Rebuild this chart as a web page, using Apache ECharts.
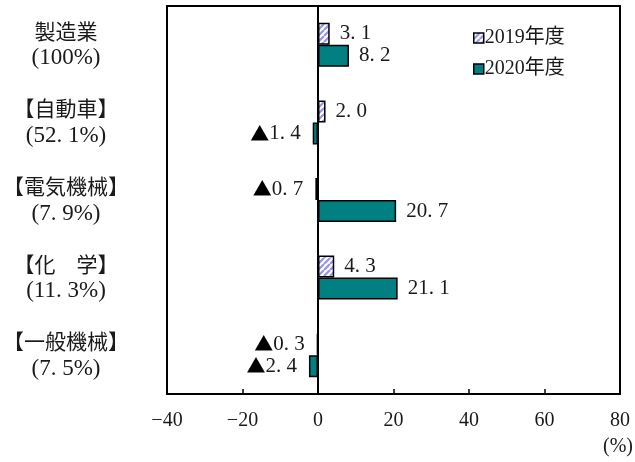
<!DOCTYPE html>
<html>
<head>
<meta charset="utf-8">
<script src="https://cdn.jsdelivr.net/npm/echarts@6/dist/echarts.min.js"></script>
<style>
  html, body { margin: 0; padding: 0; background: #fff; }
  #chart { width: 635px; height: 462px; }
</style>
</head>
<body>
<div id="chart"></div>
<script>
// Industry categories and their share of total
const categoryNames = ['製造業', '【自動車】', '【電気機械】', '【化　学】', '【一般機械】'];
const categoryShares = ['100', '52. 1', '7. 9', '11. 3', '7. 5'];
const seriesNames = ['2019年度', '2020年度'];
const values2019 = [3.1, 2.0, -0.7, 4.3, -0.3];
const values2020 = [8.2, -1.4, 20.7, 21.1, -2.4];
const xTicks = [-40, -20, 0, 20, 40, 60, 80];
const unitLabel = '(%)';

const categories = categoryNames.map((n, i) => n + '\n' + '(' + categoryShares[i] + '%)');

const FONT = '"Liberation Serif", "DejaVu Serif", "Noto Sans CJK JP", serif';
const CJK = '"Noto Sans CJK JP", sans-serif';
const TEXT = '#1a1a1a';

// Diagonal hatch fill for the 2019 bars
function hatch() {
  const c = document.createElement('canvas');
  c.width = 6; c.height = 6;
  const g = c.getContext('2d');
  g.fillStyle = '#ffffff';
  g.fillRect(0, 0, 6, 6);
  g.strokeStyle = '#9494ee';
  g.lineWidth = 2.2;
  g.beginPath();
  for (let k = -6; k <= 12; k += 6) {
    g.moveTo(k, 6); g.lineTo(k + 6, 0);
  }
  g.stroke();
  return c;
}

// Negative values are written with a ▲ mark instead of a minus sign
function fmt(v) {
  const s = Math.abs(v).toFixed(1).replace('.', '. ');
  return v < 0 ? '{tri|▲}' + s : s;
}

function makeData(arr) {
  return arr.map(v => ({
    value: v,
    label: {
      position: v < 0 ? 'left' : 'right',
      distance: v < 0 ? 12 : 10
    }
  }));
}

const labelStyle = {
  show: true,
  formatter: p => fmt(p.value),
  fontFamily: FONT,
  fontSize: 21,
  color: TEXT,
  rich: {
    tri: { fontFamily: CJK, fontSize: 19, color: '#000' }
  }
};

const chart = echarts.init(document.getElementById('chart'), null, { renderer: 'canvas' });
chart.setOption({
  animation: false,
  backgroundColor: '#fff',
  grid: {
    left: 166, right: 15, top: 6, bottom: 68,
    show: true, borderColor: '#000', borderWidth: 2, backgroundColor: 'transparent'
  },
  legend: {
    orient: 'vertical',
    left: 468, top: 23,
    itemWidth: 10, itemHeight: 10, itemGap: 11,
    textStyle: { fontFamily: FONT, fontSize: 20, color: TEXT, padding: [0, 0, 0, -4] },
    data: seriesNames.map(n => ({
      name: n,
      icon: 'rect',
      itemStyle: { borderColor: '#000', borderWidth: 1.5 }
    }))
  },
  graphic: [{
    type: 'text',
    right: 2, top: 437,
    style: { text: unitLabel, font: '20px ' + FONT, fill: TEXT }
  }],
  xAxis: {
    type: 'value',
    min: xTicks[0], max: xTicks[xTicks.length - 1], interval: 20,
    axisLine: { show: true, lineStyle: { color: '#000', width: 2 } },
    axisTick: { show: true, inside: true, length: 5, lineStyle: { color: '#000', width: 1.5 } },
    splitLine: { show: false },
    axisLabel: {
      margin: 17,
      fontFamily: FONT, fontSize: 20, color: TEXT,
      formatter: v => (v < 0 ? '−' + Math.abs(v) : String(v))
    }
  },
  yAxis: {
    type: 'category',
    inverse: true,
    data: categories,
    axisLine: { show: true, onZero: true, lineStyle: { color: '#000', width: 2 } },
    axisTick: { show: false },
    axisLabel: {
      margin: 101,
      align: 'center',
      formatter: v => {
        const [a, b] = v.split('\n');
        return '{a|' + a + '}\n{b|' + b + '}';
      },
      rich: {
        a: { fontFamily: FONT, fontSize: 21, color: TEXT, lineHeight: 25, align: 'center', padding: [2, 0, 0, 0] },
        b: { fontFamily: FONT, fontSize: 23, color: TEXT, lineHeight: 25, align: 'center', padding: [2, 0, 0, 0] }
      }
    }
  },
  series: [
    {
      name: seriesNames[0],
      type: 'bar',
      data: makeData(values2019),
      barWidth: 22,
      barGap: '0%',
      itemStyle: { color: { image: hatch(), repeat: 'repeat' }, borderColor: '#000', borderWidth: 1.5 },
      label: labelStyle
    },
    {
      name: seriesNames[1],
      type: 'bar',
      data: makeData(values2020),
      barWidth: 22,
      barGap: '0%',
      itemStyle: { color: '#008080', borderColor: '#000', borderWidth: 1.5 },
      label: labelStyle
    }
  ]
});
</script>
</body>
</html>
